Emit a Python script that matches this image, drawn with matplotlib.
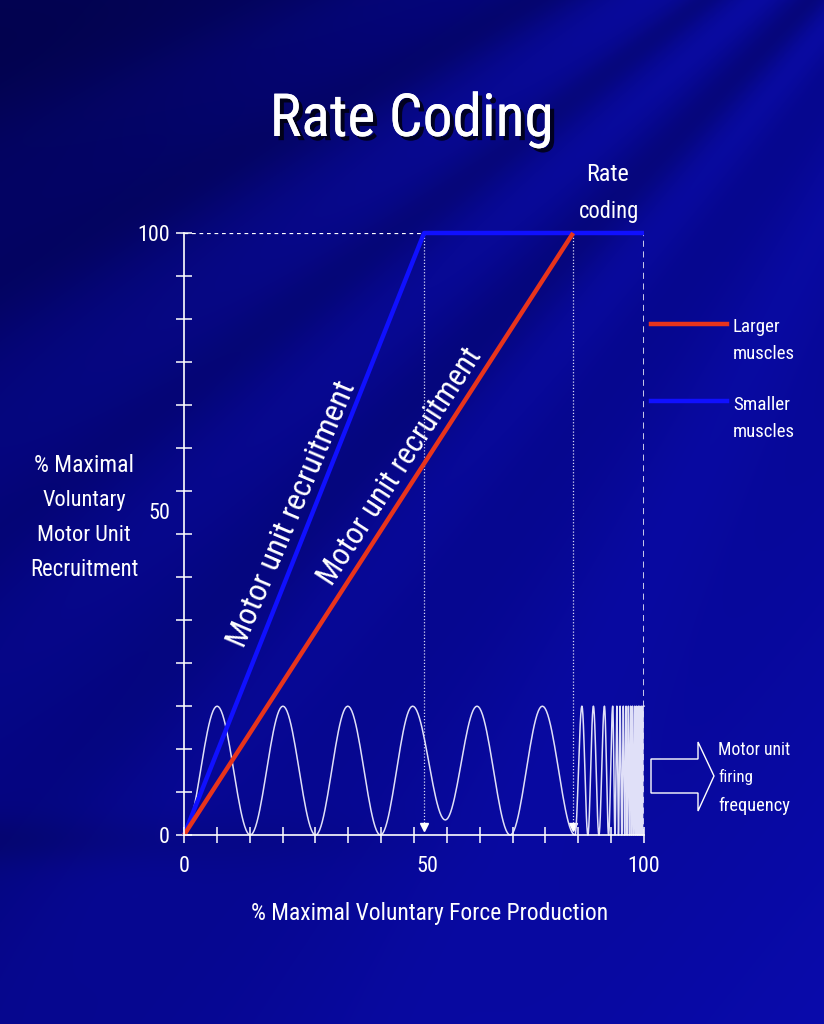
import numpy as np
import matplotlib.pyplot as plt
from matplotlib import font_manager, patheffects
from matplotlib.lines import Line2D
from matplotlib.patches import Polygon

# ---- data ----
blue_x = [0, 52.2, 100]          # smaller muscles: recruitment done at ~52 %
blue_y = [0, 100, 100]
red_x = [0, 84.6]                # larger muscles: recruitment done at ~85 %
red_y = [0, 100]

# turning points of the firing-frequency trace (x, height)
wave_x = [0, 7.2, 14.4, 21.5, 28.6, 35.6, 42.7, 49.7, 56.8, 63.7, 70.9, 77.9, 85.0,
          86.5, 87.8, 89.0, 90.2, 91.4, 92.3, 93.2, 93.7, 94.1, 94.45, 94.8, 95.15,
          95.5, 95.8, 96.1, 96.35, 96.6, 96.85, 97.1, 97.3, 97.5, 97.75, 98.0, 98.2,
          98.4, 98.6, 98.8, 98.95, 99.1, 99.3, 99.5, 99.65, 99.8, 100.0]
wave_y = [0, 21.4, 0, 21.4, 0, 21.4, 0, 21.4, 2.5, 21.4, 0, 21.4, 0,
          21.4, 0, 21.4, 0, 21.4, 0, 21.4, 0, 21.4, 0, 21.4, 0,
          21.4, 0, 21.4, 0, 21.4, 0, 21.4, 0, 21.4, 0, 21.4, 0,
          21.4, 0, 21.4, 0, 21.4, 0, 21.4, 0, 21.4, 21.4]

x_tick_labels = ['0', '50', '100']
x_tick_pos = [0, 53.0, 100]
y_tick_labels = ['0', '50', '100']
y_tick_pos = [0, 53.8, 100]
n_tick_steps = 14

ylabel_lines = ['% Maximal', 'Voluntary', 'Motor Unit', 'Recruitment']
xlabel = '% Maximal Voluntary Force Production'

# ---- fonts: the slide uses a squeezed Arial, take the narrowest sans we have ----
names = {f.name for f in font_manager.fontManager.ttflist}
font = 'Liberation Sans'
for cand in ['Liberation Sans Narrow', 'Arial Narrow', 'Roboto Condensed', 'Noto Sans ExtraCondensed',
             'Noto Sans Condensed', 'Open Sans Condensed', 'DejaVu Sans Condensed']:
    if cand in names:
        font = cand
        break
plt.rcParams['font.family'] = [font, 'DejaVu Sans']
plt.rcParams['text.color'] = 'white'

W, H = 824, 1024
fig = plt.figure(figsize=(W / 100, H / 100), dpi=100)
renderer = fig.canvas.get_renderer()


def fit(t, width_px):
    # size a text so it is as wide as on the slide
    rot = t.get_rotation()
    t.set_rotation(0)
    w = t.get_window_extent(renderer).width
    t.set_fontsize(t.get_fontsize() * width_px / w)
    t.set_rotation(rot)
    return t


# ---- slide background (pixel coordinates) ----
bg = fig.add_axes([0, 0, 1, 1])
yy, xx = np.mgrid[0:H, 0:W].astype(float)
s = 0.45 * xx / W + 0.45 * yy / H
ox, oy = 1100.0, -300.0
ang = np.degrees(np.arctan2(yy - oy, ox - xx))
fade = np.clip(1.3 - np.hypot(xx - ox, yy - oy) / 1500, 0, 1)
light = (0.10 * np.exp(-((ang - 22) / 2.0) ** 2)
         + 0.30 * np.exp(-((ang - 33) / 3.5) ** 2)
         + 0.30 * np.exp(-((ang - 41) / 2.5) ** 2)
         + 0.25 * np.exp(-((ang - 50) / 2.5) ** 2)
         + 0.20 * np.exp(-((ang - 62) / 4.0) ** 2)) * fade
dark = (0.30 * np.exp(-((ang - 18) / 4.0) ** 2)
        + 0.30 * np.exp(-((ang - 28) / 2.0) ** 2)
        + 0.25 * np.exp(-((ang - 37) / 1.5) ** 2)
        + 0.25 * np.exp(-((ang - 46) / 2.0) ** 2)) * fade
dark += 0.30 * np.exp(-((xx ** 2 + yy ** 2) / 1.2e5))
dark += 0.25 * np.exp(-((yy - 840) / 25) ** 2) * np.clip(1 - xx / 500, 0, 1)
img = np.dstack([0.01 + 0.03 * s + 0.05 * light,
                 0.01 + 0.035 * s + 0.06 * light,
                 0.42 + 0.28 * s + 0.32 * light - 0.25 * dark])
img = np.clip(img, 0, 1)
bg.imshow(img, extent=[0, W, H, 0], aspect='auto')
bg.set_xlim(0, W)
bg.set_ylim(H, 0)
bg.axis('off')

# ---- main chart ----
ax = fig.add_axes([184 / W, 1 - 835 / H, 460 / W, 602 / H])
ax.patch.set_visible(False)
ax.set_xlim(0, 100)
ax.set_ylim(0, 100)
for side in ['top', 'right']:
    ax.spines[side].set_visible(False)
for side in ['left', 'bottom']:
    ax.spines[side].set_color('white')
    ax.spines[side].set_linewidth(1.2)

probe = fit(bg.text(0, 0, '100', fontsize=17), 33)
tick_size = probe.get_fontsize()
probe.remove()

steps = np.linspace(0, 100, n_tick_steps + 1)
ax.set_xticks(steps, minor=True)
ax.set_yticks(steps, minor=True)
ax.set_xticks(x_tick_pos, x_tick_labels)
ax.set_yticks(y_tick_pos, y_tick_labels)
ax.xaxis.remove_overlapping_locs = False
ax.yaxis.remove_overlapping_locs = False
ax.tick_params(which='major', length=0, labelsize=tick_size, labelcolor='white')
ax.tick_params(axis='x', which='major', pad=15)
ax.tick_params(axis='y', which='major', pad=10)
ax.tick_params(which='minor', direction='inout', length=11, width=1.1, color='white')

# guides
ax.plot([0, blue_x[1]], [100, 100], color='white', lw=0.9, ls=(0, (3, 3)))
ax.plot([100, 100], [0, 100], color='white', lw=1.1, ls=(0, (4, 3)))
for xv in [blue_x[1], red_x[1]]:
    ax.plot([xv, xv], [1.5, 100], color='#d8d8f4', lw=0.9, ls=(0, (1, 1.5)))
    ax.plot([xv], [1.3], marker='v', ms=6, color='white', clip_on=False)

# firing-frequency trace: half-cosine between turning points
tx, ty = [], []
for i in range(len(wave_x) - 1):
    t = np.linspace(0, 1, 25)
    tx.extend(wave_x[i] + (wave_x[i + 1] - wave_x[i]) * t)
    ty.extend(wave_y[i] + (wave_y[i + 1] - wave_y[i]) * (1 - np.cos(np.pi * t)) / 2)
ax.plot(tx, ty, color='#e0e0f8', lw=1.1, clip_on=False)

ax.plot(blue_x, blue_y, color='#1010ff', lw=3.2, solid_capstyle='butt', clip_on=False)
ax.plot(red_x, red_y, color='#e8341c', lw=3.2, solid_capstyle='butt', clip_on=False)

# ---- slide texts (pixel coordinates, baselines as on the slide) ----
shadow = [patheffects.withSimplePatchShadow(offset=(3, -3), shadow_rgbFace='black', alpha=0.75),
          patheffects.Normal()]
fit(bg.text(412, 136, 'Rate Coding', fontsize=57, ha='center', va='baseline', path_effects=shadow), 284)
fit(bg.text(608, 181, 'Rate', fontsize=21, ha='center', va='baseline'), 43)
fit(bg.text(609, 218, 'coding', fontsize=21, ha='center', va='baseline'), 60)

for line, base, width in zip(ylabel_lines, [472, 506, 541, 576], [100, 83, 93, 108]):
    fit(bg.text(84, base, line, fontsize=20, ha='center', va='baseline'), width)
fit(bg.text(430, 920, xlabel, fontsize=21, ha='center', va='baseline'), 356)

fit(bg.text(292, 514, 'Motor unit recruitment', fontsize=20, rotation=67, rotation_mode='anchor',
            ha='center', va='center'), 285)
fit(bg.text(400, 467, 'Motor unit recruitment', fontsize=20, rotation=57, rotation_mode='anchor',
            ha='center', va='center'), 275)

# legend keys
fig.add_artist(Line2D([651 / W, 727 / W], [1 - 324 / H, 1 - 324 / H], color='#e8341c', lw=3.2))
fig.add_artist(Line2D([651 / W, 727 / W], [1 - 401 / H, 1 - 401 / H], color='#1010ff', lw=3.2))
fit(bg.text(733, 332, 'Larger', fontsize=15, ha='left', va='baseline'), 48)
fit(bg.text(733, 359, 'muscles', fontsize=15, ha='left', va='baseline'), 62)
fit(bg.text(733, 410, 'Smaller', fontsize=15, ha='left', va='baseline'), 57)
fit(bg.text(733, 437, 'muscles', fontsize=15, ha='left', va='baseline'), 62)

# block arrow + label
bg.add_patch(Polygon([(651, 759), (698, 759), (698, 742), (714, 776), (698, 811), (698, 793), (651, 793)],
                     closed=True, fill=False, edgecolor='white', lw=1.0))
fit(bg.text(718, 755, 'Motor unit', fontsize=15, ha='left', va='baseline'), 72)
fit(bg.text(718, 782, 'firing', fontsize=15, ha='left', va='baseline'), 35)
fit(bg.text(718, 811, 'frequency', fontsize=15, ha='left', va='baseline'), 72)

fig.savefig('out.png', dpi=100)
